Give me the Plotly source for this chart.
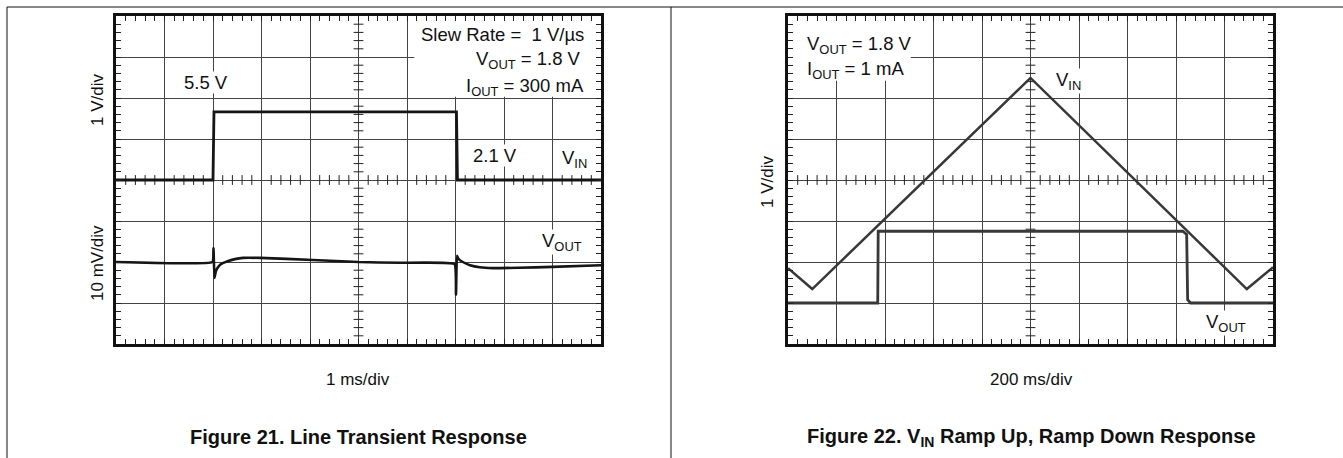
import numpy as np
import plotly.graph_objects as go

# ---- data (oscilloscope divisions: x 0..10, y 0..8, centre line y=4) ----
f21_vin_x = [0, 2.0, 2.02, 7.02, 7.04, 10]
f21_vin_y = [4.0, 4.0, 5.66, 5.66, 4.0, 4.0]
f21_vout_x = [0, 1.99, 2.01, 2.03, 2.06, 2.12, 2.2, 2.3, 2.45, 2.62, 2.97, 4.06,
              5.0, 5.86, 6.98, 7.01, 7.03, 7.06, 7.15, 7.3, 7.5, 7.77, 8.3, 9.0, 10]
f21_vout_y = [2.0, 2.0, 2.34, 1.61, 1.78, 1.9, 1.97, 2.02, 2.07, 2.1, 2.1, 2.05,
              2.0, 1.98, 1.95, 1.2, 2.15, 2.08, 2.0, 1.92, 1.87, 1.85, 1.86, 1.88, 1.92]

f22_vin_x = [0, 0.5, 5.0, 9.46, 10]
f22_vin_y = [1.85, 1.34, 6.49, 1.34, 1.87]
f22_vout_x = [0, 1.85, 1.86, 8.14, 8.22, 8.24, 8.3, 10]
f22_vout_y = [1.0, 1.0, 2.75, 2.75, 2.67, 1.08, 1.0, 1.0]

W, H = 1343, 458
FONT = "Liberation Sans, Arial, Helvetica, sans-serif"
LBL = 18.5

def px(x):
    return x / W

def py(y):
    return 1 - y / H

fig = go.Figure()

# centre-cross minor ticks
minor = np.round(np.arange(0.2, 10.0, 0.2), 2)
minor_x = [v for v in minor if abs(v - round(v)) > 1e-6]
minor_y = [v for v in minor if v < 8 and abs(v - round(v)) > 1e-6]

for xa, ya in [("x", "y"), ("x2", "y2")]:
    fig.add_trace(go.Scatter(x=[5] * len(minor_y), y=minor_y, mode="markers", xaxis=xa, yaxis=ya,
                             marker=dict(symbol="line-ew", size=7, line=dict(width=1, color="#222")),
                             hoverinfo="skip", showlegend=False))
    fig.add_trace(go.Scatter(x=minor_x, y=[4] * len(minor_x), mode="markers", xaxis=xa, yaxis=ya,
                             marker=dict(symbol="line-ns", size=7, line=dict(width=1, color="#222")),
                             hoverinfo="skip", showlegend=False))

fig.add_trace(go.Scatter(x=f21_vin_x, y=f21_vin_y, mode="lines", xaxis="x", yaxis="y",
                         line=dict(color="#151515", width=2.8), showlegend=False))
fig.add_trace(go.Scatter(x=f21_vout_x, y=f21_vout_y, mode="lines", xaxis="x", yaxis="y",
                         line=dict(color="#151515", width=2.6, shape="spline", smoothing=0.3),
                         showlegend=False))
fig.add_trace(go.Scatter(x=f22_vin_x, y=f22_vin_y, mode="lines", xaxis="x2", yaxis="y2",
                         line=dict(color="#383838", width=2.5), showlegend=False))
fig.add_trace(go.Scatter(x=f22_vout_x, y=f22_vout_y, mode="lines", xaxis="x2", yaxis="y2",
                         line=dict(color="#383838", width=2.8), showlegend=False))

def xax(domain):
    return dict(domain=domain, range=[0, 10], showgrid=True, gridcolor="#444", gridwidth=1,
                dtick=1, tick0=0, showticklabels=False, zeroline=False,
                showline=True, linecolor="#111", linewidth=3, mirror="ticks",
                ticks="inside", ticklen=5, tickcolor="#222", tickwidth=1,
                minor=dict(dtick=0.2, ticks="inside", ticklen=5, tickcolor="#222",
                           tickwidth=1, showgrid=False),
                fixedrange=True)

def yax(domain, anchor):
    d = xax(domain)
    d["range"] = [0, 8]
    d["anchor"] = anchor
    return d

xd = [px(116), px(601)]
xd2 = [px(788), px(1273)]
yd = [py(344), py(16)]

fig.update_layout(
    width=W, height=H, margin=dict(l=0, r=0, t=0, b=0),
    paper_bgcolor="white", plot_bgcolor="white",
    font=dict(family=FONT, color="#111"),
    xaxis=dict(xax(xd), anchor="y"),
    yaxis=yax(yd, "x"),
    xaxis2=dict(xax(xd2), anchor="y2"),
    yaxis2=yax(yd, "x2"),
)

shapes = [
    dict(type="line", xref="paper", yref="paper", x0=px(7), x1=1, y0=py(7), y1=py(7),
         line=dict(color="#111", width=1)),
    dict(type="line", xref="paper", yref="paper", x0=px(7), x1=px(7), y0=0, y1=py(7),
         line=dict(color="#111", width=1)),
    dict(type="line", xref="paper", yref="paper", x0=px(671), x1=px(671), y0=0, y1=py(7),
         line=dict(color="#111", width=1)),
    dict(type="rect", xref="x", yref="y", x0=6.15, x1=9.93, y0=6.03, y1=7.95,
         fillcolor="white", line=dict(width=0), layer="between"),
    dict(type="rect", xref="x2", yref="y2", x0=0.07, x1=2.53, y0=6.42, y1=7.93,
         fillcolor="white", line=dict(width=0), layer="between"),
]
fig.update_layout(shapes=shapes)

ann = []
def A(text, x, y, xref, yref, size=LBL, xanchor="center", yanchor="middle", bg=None, **kw):
    d = dict(text=text, x=x, y=y, xref=xref, yref=yref, showarrow=False,
             font=dict(size=size, family=FONT, color="#111"),
             xanchor=xanchor, yanchor=yanchor, borderpad=0)
    if bg:
        d["bgcolor"] = bg
    d.update(kw)
    ann.append(d)

# Figure 21 labels
A("Slew Rate =  1 V/\u00b5s", 9.67, 7.56, "x", "y", xanchor="right")
A("V<sub>OUT</sub> = 1.8 V", 9.61, 6.93, "x", "y", xanchor="right")
A("I<sub>OUT</sub> = 300 mA", 9.67, 6.27, "x", "y", xanchor="right")
A("5.5 V", 1.86, 6.37, "x", "y", bg="white")
A("2.1 V", 7.81, 4.59, "x", "y", bg="white")
A("V<sub>IN</sub>", 9.46, 4.52, "x", "y", bg="white")
A("V<sub>OUT</sub>", 9.2, 2.5, "x", "y", bg="white")
A("1 V/div", px(97), py(100), "paper", "paper", size=17, textangle=-90)
A("10 mV/div", px(97), py(263), "paper", "paper", size=17, textangle=-90)
A("1 ms/div", px(358), py(379), "paper", "paper", size=17)
A("<b>Figure 21. Line Transient Response</b>", px(358), py(437), "paper", "paper", size=20)

# Figure 22 labels
A("V<sub>OUT</sub> = 1.8 V", 0.37, 7.3, "x2", "y2", xanchor="left")
A("I<sub>OUT</sub> = 1 mA", 0.37, 6.68, "x2", "y2", xanchor="left")
A("V<sub>IN</sub>", 5.5, 6.42, "x2", "y2", xanchor="left", bg="white")
A("V<sub>OUT</sub>", 9.03, 0.52, "x2", "y2", bg="white")
A("1 V/div", px(768), py(182), "paper", "paper", size=17, textangle=-90)
A("200 ms/div", px(1031), py(379), "paper", "paper", size=17)
A("<b>Figure 22. V<sub>IN</sub> Ramp Up, Ramp Down Response</b>", px(1031), py(437),
  "paper", "paper", size=20)

fig.update_layout(annotations=ann)

fig.write_html("out.html", config={"displayModeBar": False},
               post_script="document.body.style.margin='0px';")
